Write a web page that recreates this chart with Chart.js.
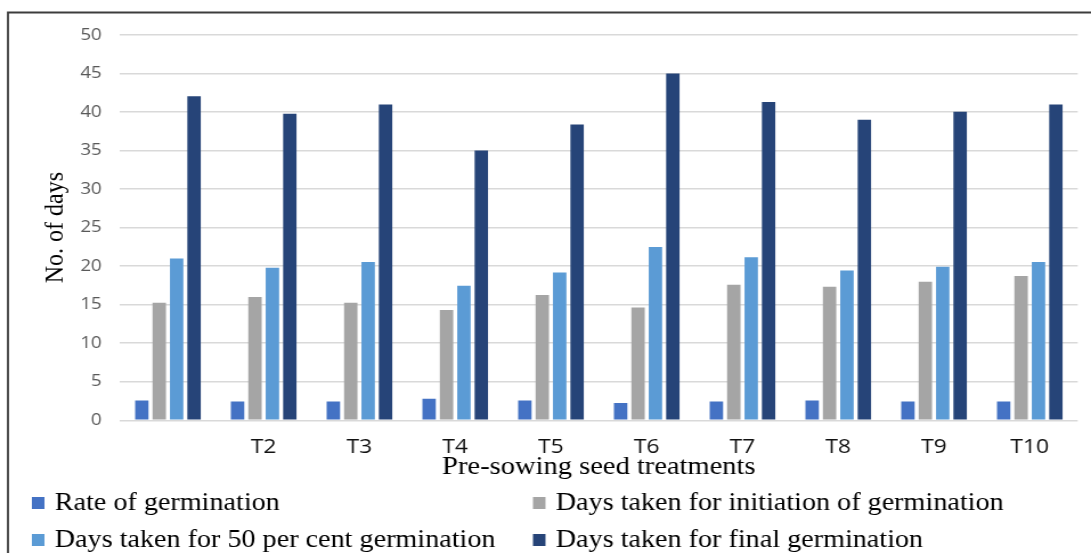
<!DOCTYPE html>
<html>
<head>
<meta charset="utf-8">
<script src="https://cdn.jsdelivr.net/npm/chart.js@4/dist/chart.umd.min.js"></script>
<style>
  html, body { margin: 0; padding: 0; background: #fff; overflow: hidden; }
  /* the chart is drawn on a narrower canvas and shown slightly wider */
  #chart { display: block; width: 1091px !important; height: 553px !important; }
</style>
</head>
<body>
<canvas id="chart" width="957" height="553"></canvas>
<script>
// Pre-sowing seed treatments (first treatment has no printed label)
const categories = ['', 'T2', 'T3', 'T4', 'T5', 'T6', 'T7', 'T8', 'T9', 'T10'];

// No. of days per treatment
const rateOfGermination   = [2.57, 2.44, 2.44, 2.79, 2.57, 2.23, 2.44, 2.57, 2.44, 2.44];
const daysToInitiation    = [15.26, 16.0, 15.26, 14.31, 16.26, 14.65, 17.6, 17.34, 17.99, 18.73];
const daysToFiftyPercent  = [21.0, 19.8, 20.55, 17.47, 19.19, 22.5, 21.15, 19.45, 19.94, 20.55];
const daysToFinal         = [42.05, 39.77, 40.97, 35.0, 38.38, 45.0, 41.3, 39.0, 40.03, 40.97];

const yTicks = { min: 0, max: 50, step: 5 };

const SERIF = '"Liberation Serif", "Times New Roman", serif';
const SANS = '"Open Sans", sans-serif';

// outer frame: top and left edges of the chart box
const framePlugin = {
  id: 'frame',
  beforeDraw(chart) {
    const ctx = chart.ctx;
    ctx.save();
    ctx.fillStyle = '#fff';
    ctx.fillRect(0, 0, chart.width, chart.height);
    ctx.strokeStyle = '#3c3c3c';
    ctx.lineWidth = 1.8;
    ctx.beginPath();
    ctx.moveTo(7, chart.height + 2);
    ctx.lineTo(7, 12.5);
    ctx.lineTo(chart.width + 2, 12.5);
    ctx.stroke();
    ctx.restore();
  }
};

// two-column legend under the axis title
const gridLegendPlugin = {
  id: 'gridLegend',
  afterDraw(chart) {
    const ctx = chart.ctx;
    const cols = [28, 467.5];
    const rows = [503, 540];
    ctx.save();
    ctx.font = '24.7px ' + SERIF;
    ctx.textBaseline = 'middle';
    ctx.textAlign = 'left';
    chart.data.datasets.forEach((ds, i) => {
      const x = cols[i % 2];
      const y = rows[Math.floor(i / 2)];
      ctx.fillStyle = ds.backgroundColor;
      ctx.fillRect(x, y - 6, 11, 12);
      ctx.fillStyle = '#000';
      ctx.fillText(ds.label, x + 20, y + 1);
    });
    ctx.restore();
  }
};

const barStyle = { categoryPercentage: 0.727, barPercentage: 0.77, borderWidth: 0 };

new Chart(document.getElementById('chart'), {
  type: 'bar',
  data: {
    labels: categories,
    datasets: [
      { label: 'Rate of germination', data: rateOfGermination, backgroundColor: '#4472C4', ...barStyle },
      { label: 'Days taken for initiation of germination', data: daysToInitiation, backgroundColor: '#A5A5A5', ...barStyle },
      { label: 'Days taken for 50 per cent germination', data: daysToFiftyPercent, backgroundColor: '#5B9BD5', ...barStyle },
      { label: 'Days taken for final germination', data: daysToFinal, backgroundColor: '#264478', ...barStyle }
    ]
  },
  options: {
    responsive: false,
    animation: false,
    devicePixelRatio: 1,
    layout: { padding: { left: 0, right: 11.7, top: 35, bottom: 70.7 } },
    plugins: {
      legend: { display: false },
      tooltip: { enabled: false }
    },
    scales: {
      x: {
        grid: { display: false, drawTicks: false },
        border: { display: false },
        ticks: { font: { family: SANS, size: 20 }, color: '#111', padding: 15, maxRotation: 0, autoSkip: false },
        title: {
          display: true, text: 'Pre-sowing seed treatments',
          font: { family: SERIF, size: 25 }, color: '#000', padding: { top: 0, bottom: 0 }
        },
        afterFit(scale) { scale.height = 62; }
      },
      y: {
        min: yTicks.min, max: yTicks.max,
        ticks: { stepSize: yTicks.step, font: { family: SANS, size: 16.5 }, color: '#595959', padding: 16 },
        grid: { color: '#d9d9d9', lineWidth: 1.5, drawTicks: false },
        border: { display: false },
        title: {
          display: true, text: 'No. of days',
          font: { family: SERIF, size: 24 }, color: '#000', padding: { top: 34, bottom: 0 }
        },
        afterFit(scale) { scale.width = 105.3; }
      }
    }
  },
  plugins: [framePlugin, gridLegendPlugin]
});
</script>
</body>
</html>
